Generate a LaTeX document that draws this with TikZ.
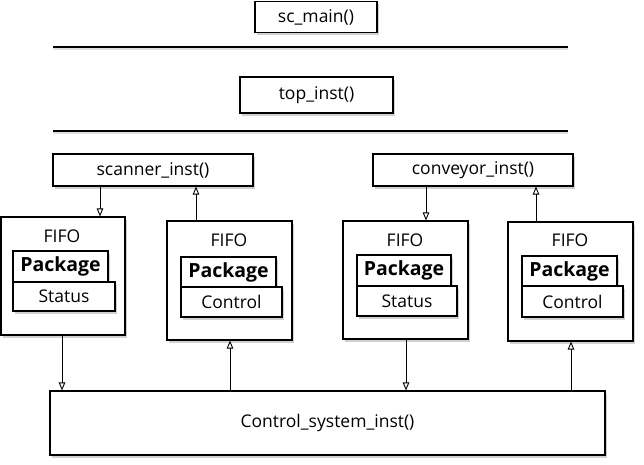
\documentclass[tikz,border=0pt]{standalone}
\usepackage{fontspec}
\setmainfont{Open Sans}
\usetikzlibrary{arrows.meta,shadows}
\begin{document}
\begin{tikzpicture}[x=1pt,y=-1pt,
  box/.style={draw, line width=1.1pt, fill=white, inner sep=0pt,
    drop shadow={shadow xshift=1.5pt, shadow yshift=-2.5pt, opacity=0.18, fill=black}},
  txt/.style={font=\fontsize{17.5}{19}\selectfont},
  bold/.style={font=\fontsize{19.5}{21}\selectfont\bfseries},
  arr/.style={draw, line width=0.9pt, -{Triangle[open, length=8pt, width=6.5pt]}},
  rule/.style={draw, line width=1.2pt}]
\useasboundingbox (0,0) rectangle (644,464);
% top
\node[box, txt, minimum width=122pt, minimum height=31pt] (scmain) at (316,17) {sc\_main()};
\coordinate (l1a) at (53,47); \coordinate (l1b) at (568,47);
\draw[line width=2pt, black!12] ([yshift=-2pt]l1a) -- ([yshift=-2pt]l1b);
\draw[rule] (l1a) -- (l1b);
\node[box, txt, minimum width=153pt, minimum height=36pt] (top) at (316.5,95) {top\_inst()};
\coordinate (l2a) at (53,131); \coordinate (l2b) at (568,131);
\draw[line width=2pt, black!12] ([yshift=-2pt]l2a) -- ([yshift=-2pt]l2b);
\draw[rule] (l2a) -- (l2b);
% inst boxes
\node[box, txt, minimum width=200pt, minimum height=32pt] (scanner) at (153,170) {scanner\_inst()};
\node[box, txt, minimum width=200pt, minimum height=32pt] (conveyor) at (473,170) {conveyor\_inst()};
% FIFO boxes
\node[box, minimum width=124pt, minimum height=118pt] (f1) at (63,276) {};
\node[box, minimum width=125pt, minimum height=119pt] (f2) at (229.5,280.5) {};
\node[box, minimum width=125pt, minimum height=118pt] (f3) at (405.5,280) {};
\node[box, minimum width=125pt, minimum height=119pt] (f4) at (570.5,281.5) {};
\node[txt] (f1l) at (62,236) {FIFO};
\node[txt] (f2l) at (229,240) {FIFO};
\node[txt] (f3l) at (405,240) {FIFO};
\node[txt] (f4l) at (570,240) {FIFO};
% Package / Status / Control
\node[box, bold, minimum width=95pt, minimum height=31pt] (p1) at (60.5,266.5) {Package};
\node[box, txt, minimum width=102pt, minimum height=29pt] (s1) at (64,296.5) {Status};
\node[box, bold, minimum width=95pt, minimum height=30pt] (p2) at (228.5,272) {Package};
\node[box, txt, minimum width=101pt, minimum height=30pt] (c2) at (231.5,302) {Control};
\node[box, bold, minimum width=94pt, minimum height=31pt] (p3) at (404,270.5) {Package};
\node[box, txt, minimum width=100pt, minimum height=30pt] (s3) at (407,301) {Status};
\node[box, bold, minimum width=95pt, minimum height=30pt] (p4) at (569.5,271) {Package};
\node[box, txt, minimum width=101pt, minimum height=31pt] (c4) at (572.5,301.5) {Control};
% control system
\node[box, txt, minimum width=555pt, minimum height=64pt] (cs) at (327.5,423) {Control\_system\_inst()};
% arrow x positions
\coordinate (xa) at (100,0);
\coordinate (xb) at (196,0);
\coordinate (xc) at (426,0);
\coordinate (xd) at (536,0);
\coordinate (xe) at (62,0);
\coordinate (xf) at (230,0);
\coordinate (xg) at (406,0);
\coordinate (xh) at (571,0);
\draw[arr] (scanner.south -| xa) -- (f1.north -| xa);
\draw[arr] (f2.north -| xb) -- (scanner.south -| xb);
\draw[arr] (conveyor.south -| xc) -- (f3.north -| xc);
\draw[arr] (f4.north -| xd) -- (conveyor.south -| xd);
\draw[arr] (f1.south -| xe) -- (cs.north -| xe);
\draw[arr] (cs.north -| xf) -- (f2.south -| xf);
\draw[arr] (f3.south -| xg) -- (cs.north -| xg);
\draw[arr] (cs.north -| xh) -- (f4.south -| xh);
\end{tikzpicture}
\end{document}
